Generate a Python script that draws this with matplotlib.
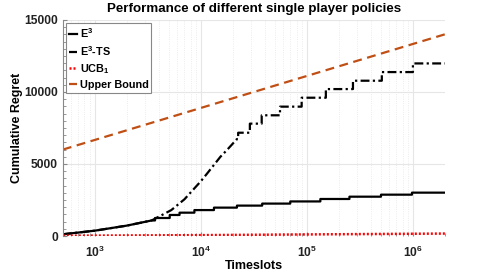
import numpy as np
import matplotlib
matplotlib.use("Agg")
import matplotlib.pyplot as plt
from matplotlib.ticker import LogLocator, MultipleLocator, NullFormatter

plt.rcParams['font.family'] = ['Liberation Sans', 'DejaVu Sans']
plt.rcParams['font.weight'] = 'bold'
plt.rcParams['mathtext.fontset'] = 'custom'
plt.rcParams['mathtext.rm'] = 'Liberation Sans:bold'
plt.rcParams['mathtext.it'] = 'Liberation Sans:bold'
plt.rcParams['mathtext.default'] = 'regular'

# E3: smooth start, then staircase
e3_t = [500, 1000, 2000, 3440]
e3_v = [120, 370, 720, 1080]
e3_rise = [3700, 5090, 6300, 8700, 13300, 21900, 37900, 69700, 134000, 252000, 500000, 980000]
e3_lvl = [1250, 1460, 1620, 1800, 1970, 2110, 2250, 2400, 2570, 2730, 2870, 3010]

# E3-TS: smooth start, then staircase
ts_t = [500, 1000, 2000, 3440, 5270, 7010, 10000, 11500, 15300, 17650, 21900]
ts_v = [120, 370, 720, 1080, 1800, 2550, 3800, 4350, 5500, 5970, 6730]
ts_rise = [22500, 29000, 37500, 55800, 89300, 151000, 272000, 509000, 1000000]
ts_lvl = [7170, 7800, 8380, 8980, 9600, 10200, 10780, 11380, 11980]

# UCB1 stays close to zero
ucb_t = [500, 10000, 100000, 2000000]
ucb_v = [20, 60, 110, 170]

# Upper bound is a straight line on log x
ub_t = [500, 2000000]
ub_v = [6000, 14000]

t_end = 2000000


def stairs(t, v, rise, lvl):
    # append the step corners to the smooth part
    xs = list(t)
    ys = list(v)
    for r, l in zip(rise, lvl):
        xs += [r, r]
        ys += [ys[-1], l]
    xs.append(t_end)
    ys.append(ys[-1])
    return xs, ys


fig = plt.figure(figsize=(4.91, 2.73), dpi=100)
ax = fig.add_axes([0.128, 0.1355, 0.778, 0.7915])

x1, y1 = stairs(e3_t, e3_v, e3_rise, e3_lvl)
x2, y2 = stairs(ts_t, ts_v, ts_rise, ts_lvl)

ax.plot(x1, y1, color='black', lw=1.6, label='E$^3$')
ax.plot(x2, y2, color='black', lw=1.6, ls=(0, (4, 1.5, 1, 1.5)), label='E$^3$-TS')
ax.plot(ucb_t, ucb_v, color='red', lw=1.8, ls=(0, (0.8, 0.8)), label='UCB$_1$')
ax.plot(ub_t, ub_v, color='#BF4F14', lw=1.6, ls=(0, (4, 2.5)), label='Upper Bound')

ax.set_xscale('log')
ax.set_xlim(500, 2000000)
ax.set_ylim(0, 15000)
ax.yaxis.set_major_locator(MultipleLocator(5000))
ax.yaxis.set_minor_locator(MultipleLocator(500))
ax.xaxis.set_major_locator(LogLocator(base=10))
ax.xaxis.set_minor_locator(LogLocator(base=10, subs=np.arange(2, 10)))
ax.xaxis.set_minor_formatter(NullFormatter())

ax.grid(True, which='major', color='#e6e6e6', lw=0.8)
ax.grid(True, which='minor', axis='x', color='#e6e6e6', lw=0.6, ls=':')
ax.set_axisbelow(True)

for s in ['top', 'right', 'bottom']:
    ax.spines[s].set_visible(False)
ax.spines['left'].set_color('#888888')
ax.tick_params(which='both', direction='in', colors='#888888', labelcolor='#222222', labelsize=8.7)
ax.tick_params(which='major', length=3)
ax.tick_params(which='minor', length=2)
ax.tick_params(axis='x', which='major', pad=6)

ax.set_title('Performance of different single player policies', fontsize=9.6, fontweight='bold', pad=6)
ax.set_xlabel('Timeslots', fontsize=9, fontweight='bold', labelpad=0)
ax.set_ylabel('Cumulative Regret', fontsize=9, fontweight='bold', labelpad=1)

leg = ax.legend(loc='upper left', fontsize=7.8, handlelength=0.8, handletextpad=0.2,
                borderaxespad=0.3, borderpad=0.25, labelspacing=0.4, fancybox=False,
                framealpha=1)
leg.get_frame().set_edgecolor('#888888')
leg.get_frame().set_linewidth(0.8)

plt.savefig('out.png', dpi=100)
